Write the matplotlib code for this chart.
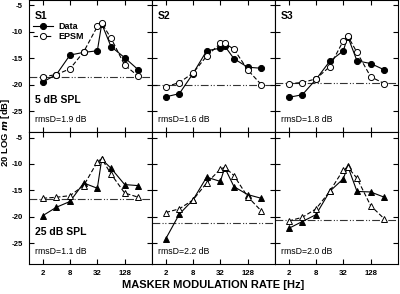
import matplotlib
matplotlib.use("Agg")

import matplotlib.pyplot as plt

plt.rcParams["font.family"] = ["Liberation Sans", "DejaVu Sans"]
plt.rcParams["font.weight"] = "bold"

rates = [2, 4, 8, 16, 32, 40, 64, 128, 256]
xticks = [2, 8, 32, 128]
yticks = [-5, -10, -15, -20, -25]
subjects = ["S1", "S2", "S3"]
levels = ["5 dB SPL", "25 dB SPL"]

# 5 dB SPL
data_5 = [
    [-19.5, -18.1, -14.4, -13.9, -13.6, -8.5, -12.8, -14.9, -17.2],
    [-22.3, -21.7, -17.9, -13.6, -13.1, -12.7, -15.1, -16.7, -16.9],
    [-22.4, -21.9, -19.0, -15.6, -13.6, -10.9, -15.5, -16.0, -17.2],
]
epsm_5 = [
    [-18.5, -18.1, -17.0, -13.8, -9.0, -8.4, -11.2, -16.3, -18.4],
    [-20.4, -19.6, -17.8, -14.6, -12.2, -12.2, -13.3, -17.2, -20.0],
    [-19.8, -19.6, -18.9, -16.6, -11.7, -10.8, -13.9, -18.5, -19.8],
]
ref_5 = [-18.6, -20.0, -19.7]
rms_5 = ["rmsD=1.9 dB", "rmsD=1.6 dB", "rmsD=1.8 dB"]

# 25 dB SPL
data_25 = [
    [-19.8, -18.2, -17.1, -13.6, -14.6, -9.1, -10.8, -13.9, -14.1],
    [-24.2, -19.5, -16.8, -12.5, -13.3, -10.7, -14.3, -15.8, -16.5],
    [-22.2, -20.9, -19.6, -15.2, -12.8, -10.4, -15.2, -15.3, -16.3],
]
epsm_25 = [
    [-16.5, -16.3, -16.0, -14.1, -9.6, -9.0, -11.9, -15.5, -16.3],
    [-19.2, -18.5, -16.8, -13.6, -11.0, -10.6, -12.2, -16.2, -18.9],
    [-20.8, -20.1, -18.5, -15.2, -11.1, -10.6, -12.7, -17.9, -20.4],
]
ref_25 = [-16.6, -21.1, -20.7]
rms_25 = ["rmsD=1.1 dB", "rmsD=2.2 dB", "rmsD=2.0 dB"]

rows = [
    (data_5, epsm_5, ref_5, rms_5, "o"),
    (data_25, epsm_25, ref_25, rms_25, "^"),
]

fig = plt.figure(figsize=(4.0, 2.94), dpi=100)
W, H = 400.0, 294.0
col_x = [29, 152, 275]
row_y = [(0, 132.3), (132.3, 264.3)]
ax_w = 123

for r, (data, epsm, ref, rms, mk) in enumerate(rows):
    top, bot = row_y[r]
    for c in range(3):
        ax = fig.add_axes([col_x[c] / W, 1 - bot / H, ax_w / W, (bot - top) / H])
        ax.set_xscale("log", base=2)
        ax.set_xlim(1, 512)
        ax.set_ylim(-29, -4)

        ax.axhline(ref[c], color="#333333", lw=0.8,
                   linestyle=(0, (7, 2, 1, 1.5, 1, 2)), zorder=1)
        ms = 4.4 if mk == "o" else 5.0
        ax.plot(rates, data[c], "-", color="black", lw=0.8, marker=mk,
                ms=ms, mfc="black", mec="black", mew=0.7, label="Data", zorder=3)
        ax.plot(rates, epsm[c], color="black", lw=0.8, linestyle=(0, (4, 2)),
                marker=mk, ms=ms, mfc="white", mec="black", mew=0.7,
                label="EPSM", zorder=4)

        ax.set_xticks(xticks)
        ax.set_xticks([], minor=True)
        ax.set_yticks(yticks)
        ax.tick_params(direction="in", length=3.5, width=0.8, top=True,
                       right=True, labelsize=5.6)
        ax.tick_params(axis="y", pad=4.5)
        ax.tick_params(axis="x", pad=4)
        ax.tick_params(which="minor", length=0)
        if r == 1:
            ax.set_xticklabels([str(t) for t in xticks], fontweight="bold")
        else:
            ax.set_xticklabels([])
        if c == 0:
            ax.set_yticklabels([str(t) for t in yticks], fontweight="bold")
        else:
            ax.set_yticklabels([])
        for s in ax.spines.values():
            s.set_linewidth(0.8)

        ax.text(0.05, 0.06, rms[c], transform=ax.transAxes, fontsize=6.3,
                fontweight="normal", va="bottom", ha="left")
        if r == 0:
            ax.text(0.05, 0.92, subjects[c], transform=ax.transAxes,
                    fontsize=7.5, fontweight="bold", va="top", ha="left")
        if c == 0:
            ax.text(0.05, 0.245, levels[r], transform=ax.transAxes,
                    fontsize=7.5, fontweight="bold", va="center", ha="left")
        if r == 0 and c == 0:
            ax.legend(loc="upper left", bbox_to_anchor=(0.0, 0.86),
                      frameon=False, handlelength=2.3,
                      handletextpad=0.6, labelspacing=0.1, borderpad=0.2,
                      borderaxespad=0.2, prop={"weight": "bold", "size": 6.5})

fig.text(213 / W, 1 - 285 / H, "MASKER MODULATION RATE [Hz]", ha="center",
         va="center", fontsize=8, fontweight="bold")
fig.text(5.5 / W, 1 - 132 / H, r"20 LOG $\mathbf{\mathit{m}}$ [dB]", ha="center",
         va="center", rotation=90, fontsize=6.8, fontweight="bold")

fig.savefig("out.png", dpi=100)
